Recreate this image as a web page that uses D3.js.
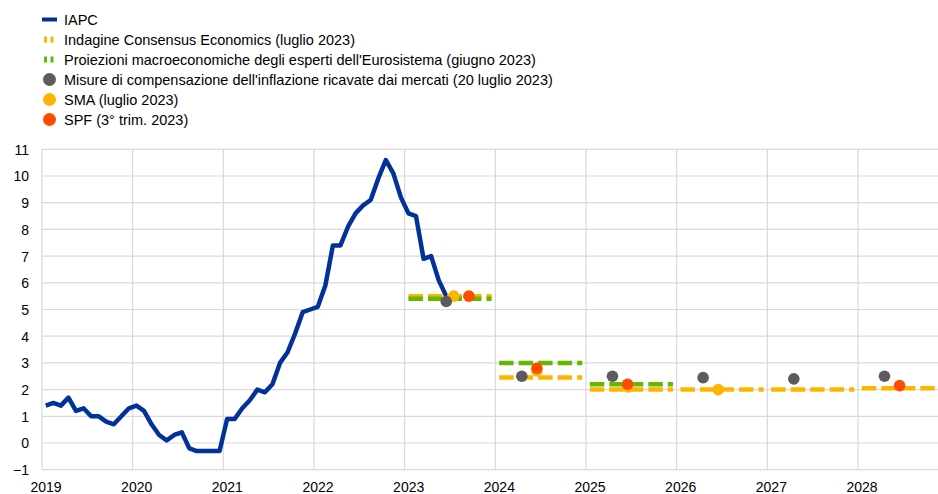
<!DOCTYPE html>
<html>
<head>
<meta charset="utf-8">
<script src="https://cdn.jsdelivr.net/npm/d3@7"></script>
<style>
  body { margin: 0; background: #fff; }
  svg text { font-family: "Liberation Sans", Arial, sans-serif; fill: #000; }
</style>
</head>
<body>
<svg id="chart" width="938" height="494"></svg>
<script>
// IAPC monthly, from Jan 2019
let hicpStart = 2019;
let hicp = [
  1.4, 1.5, 1.4, 1.7, 1.2, 1.3, 1.0, 1.0, 0.8, 0.7, 1.0, 1.3,
  1.4, 1.2, 0.7, 0.3, 0.1, 0.3, 0.4, -0.2, -0.3, -0.3, -0.3, -0.3,
  0.9, 0.9, 1.3, 1.6, 2.0, 1.9, 2.2, 3.0, 3.4, 4.1, 4.9, 5.0,
  5.1, 5.9, 7.4, 7.4, 8.1, 8.6, 8.9, 9.1, 9.9, 10.6, 10.1, 9.2,
  8.6, 8.5, 6.9, 7.0, 6.1, 5.5
];

// annual projections
let consensusYears = [2023, 2024, 2025, 2026, 2027, 2028];
let consensus = [5.5, 2.45, 2.0, 2.0, 2.0, 2.05];
let eurosystemYears = [2023, 2024, 2025];
let eurosystem = [5.4, 3.0, 2.2];

// point estimates (year-month)
let marketDates = ['2023-06', '2024-04', '2025-04', '2026-04', '2027-04', '2028-04'];
let marketValues = [5.3, 2.5, 2.5, 2.45, 2.4, 2.5];
let smaDates = ['2023-07', '2024-06', '2025-06', '2026-06'];
let smaValues = [5.5, 2.7, 2.1, 2.0];
let spfDates = ['2023-09', '2024-06', '2025-06', '2028-06'];
let spfValues = [5.5, 2.8, 2.2, 2.15];

let yTicks = d3.range(-1, 12);
let xYears = d3.range(2019, 2029);

let legendItems = [
  {label: 'IAPC', type: 'line', color: '#003299'},
  {label: 'Indagine Consensus Economics (luglio 2023)', type: 'dash', color: '#ffb400'},
  {label: "Proiezioni macroeconomiche degli esperti dell'Eurosistema (giugno 2023)", type: 'dash', color: '#65b800'},
  {label: "Misure di compensazione dell'inflazione ricavate dai mercati (20 luglio 2023)", type: 'dot', color: '#5c5c5c'},
  {label: 'SMA (luglio 2023)', type: 'dot', color: '#ffb400'},
  {label: 'SPF (3° trim. 2023)', type: 'dot', color: '#ff4b00'}
];

let svg = d3.select('#chart');

let x = d3.scaleLinear().domain([2019, 2029]).range([42, 948.7]);
let y = d3.scaleLinear().domain([-1, 11]).range([469.7, 149.3]);

function monthPos(str){
  let parts = str.split('-');
  return +parts[0] + (+parts[1] - 0.5) / 12;
}

// grid
svg.append('g')
  .selectAll('line.h')
  .data(yTicks)
  .enter()
  .append('line')
  .attr('x1', x(2019))
  .attr('x2', 938)
  .attr('y1', d => y(d))
  .attr('y2', d => y(d))
  .style('stroke', '#d9d9d9')
  .style('stroke-width', '1.2px');

svg.append('g')
  .selectAll('line.v')
  .data(xYears)
  .enter()
  .append('line')
  .attr('x1', d => x(d))
  .attr('x2', d => x(d))
  .attr('y1', y(11))
  .attr('y2', y(-1))
  .style('stroke', '#d9d9d9')
  .style('stroke-width', '1.2px');

// y axis labels
let yAxis = d3.axisLeft(y).tickValues(yTicks).tickSize(0).tickPadding(0).tickFormat(d3.format('d'));
svg.append('g')
  .attr('transform', 'translate(29,0)')
  .call(yAxis)
  .call(g => g.select('.domain').remove())
  .selectAll('text')
  .style('font-size', '14px')
  .attr('dy', '0.35em');

// x axis labels
let xAxis = d3.axisBottom(x).tickValues(xYears).tickSize(0).tickPadding(0).tickFormat(d3.format('d'));
svg.append('g')
  .attr('transform', 'translate(3.5,' + 491.5 + ')')
  .call(xAxis)
  .call(g => g.select('.domain').remove())
  .selectAll('text')
  .style('font-size', '14px')
  .attr('dy', '0');

// IAPC line
let line = d3.line()
  .x((d, i) => x(hicpStart + (i + 0.5) / 12))
  .y(d => y(d));

svg.append('path')
  .datum(hicp)
  .attr('d', line)
  .style('fill', 'none')
  .style('stroke', '#003299')
  .style('stroke-width', '4.5px')
  .style('stroke-linejoin', 'round');

// dashed annual projections
function drawSegments(years, values, color){
  svg.append('g')
    .selectAll('line')
    .data(values)
    .enter()
    .append('line')
    .attr('x1', (d, i) => x(years[i] + 0.5 / 12))
    .attr('x2', (d, i) => x(years[i] + 11.5 / 12))
    .attr('y1', d => y(d))
    .attr('y2', d => y(d))
    .style('stroke', color)
    .style('stroke-width', '4.5px')
    .style('stroke-dasharray', '14.5,5');
}
drawSegments(consensusYears, consensus, '#ffb400');
drawSegments(eurosystemYears, eurosystem, '#65b800');

// dots
function drawDots(dates, values, color){
  svg.append('g')
    .selectAll('circle')
    .data(values)
    .enter()
    .append('circle')
    .attr('cx', (d, i) => x(monthPos(dates[i])))
    .attr('cy', d => y(d))
    .attr('r', 5.8)
    .style('fill', color);
}
drawDots(smaDates, smaValues, '#ffb400');
drawDots(spfDates, spfValues, '#ff4b00');
drawDots(marketDates, marketValues, '#5c5c5c');

// legend
let legend = svg.append('g')
  .selectAll('g.item')
  .data(legendItems)
  .enter()
  .append('g')
  .attr('class', 'item')
  .attr('transform', (d, i) => `translate(0,${19.5 + i * 20})`);

legend.filter(d => d.type == 'line')
  .append('rect')
  .attr('x', 42).attr('y', -2).attr('width', 15).attr('height', 4)
  .style('fill', d => d.color);

legend.filter(d => d.type == 'dash')
  .selectAll('rect')
  .data(d => [d, d])
  .enter()
  .append('rect')
  .attr('x', (d, i) => 44 + i * 6.5).attr('y', -3).attr('width', 3).attr('height', 6)
  .style('fill', d => d.color);

legend.filter(d => d.type == 'dot')
  .append('circle')
  .attr('cx', 49.5).attr('cy', 0).attr('r', 6.5)
  .style('fill', d => d.color);

legend.append('text')
  .attr('x', 64)
  .attr('dy', '0.35em')
  .style('font-size', '14.5px')
  .text(d => d.label);
</script>
</body>
</html>
